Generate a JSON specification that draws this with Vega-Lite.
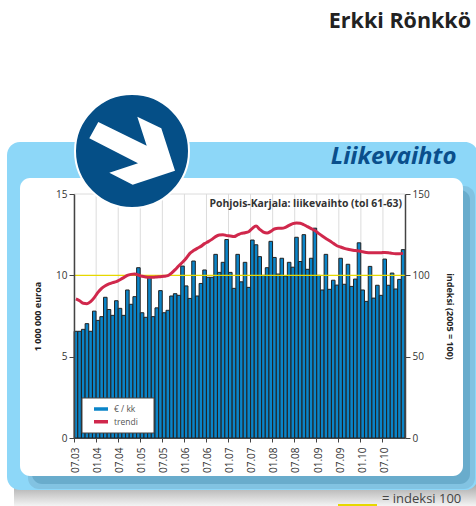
{"$schema":"https://vega.github.io/schema/vega-lite/v6.json","width":331,"height":244,"autosize":"none","padding":{"left":74,"top":194,"right":71,"bottom":68},"background":"white","config":{"view":{"stroke":null},"font":"Open Sans"},"datasets":{"kuukaudet":[
{"kk":"07.03","e":6.56,"t":85.5},{"kk":"08.03","e":6.56,"t":84.4},{"kk":"09.03","e":6.68,"t":82.8},{"kk":"10.03","e":7.03,"t":82.6},{"kk":"11.03","e":6.56,"t":83.8},{"kk":"12.03","e":7.8,"t":86.3},
{"kk":"01.04","e":7.23,"t":89.5},{"kk":"02.04","e":7.46,"t":92},{"kk":"03.04","e":8.65,"t":93.6},{"kk":"04.04","e":7.9,"t":94.7},{"kk":"05.04","e":7.54,"t":95.5},{"kk":"06.04","e":8.44,"t":96.1},
{"kk":"07.04","e":7.97,"t":97.3},{"kk":"08.04","e":7.54,"t":98.6},{"kk":"09.04","e":9.1,"t":100},{"kk":"10.04","e":8.22,"t":100.6},{"kk":"11.04","e":8.69,"t":100.8},{"kk":"12.04","e":10.47,"t":100.2},
{"kk":"01.05","e":7.7,"t":99.4},{"kk":"02.05","e":7.42,"t":99},{"kk":"03.05","e":9.9,"t":98.8},{"kk":"04.05","e":7.46,"t":98.8},{"kk":"05.05","e":8.0,"t":99},{"kk":"06.05","e":9.06,"t":99.2},
{"kk":"07.05","e":7.7,"t":99.4},{"kk":"08.05","e":7.85,"t":99.8},{"kk":"09.05","e":8.73,"t":101.4},{"kk":"10.05","e":8.87,"t":103.5},{"kk":"11.05","e":8.77,"t":105.9},{"kk":"12.05","e":10.57,"t":108},
{"kk":"01.06","e":9.35,"t":110.5},{"kk":"02.06","e":8.58,"t":113.5},{"kk":"03.06","e":10.88,"t":115.2},{"kk":"04.06","e":8.73,"t":116.6},{"kk":"05.06","e":9.5,"t":117.8},{"kk":"06.06","e":10.33,"t":119.5},
{"kk":"07.06","e":9.88,"t":120.7},{"kk":"08.06","e":9.88,"t":122.1},{"kk":"09.06","e":11.29,"t":123.8},{"kk":"10.06","e":10.18,"t":124.8},{"kk":"11.06","e":10.8,"t":125},{"kk":"12.06","e":12.2,"t":124.4},
{"kk":"01.07","e":10.18,"t":124.2},{"kk":"02.07","e":9.2,"t":123.8},{"kk":"03.07","e":11.29,"t":124.8},{"kk":"04.07","e":9.6,"t":125.8},{"kk":"05.07","e":10.8,"t":126.2},{"kk":"06.07","e":9.26,"t":126.8},
{"kk":"07.07","e":12.17,"t":128.9},{"kk":"08.07","e":11.88,"t":130.3},{"kk":"09.07","e":11.15,"t":128.3},{"kk":"10.07","e":10.0,"t":126.6},{"kk":"11.07","e":10.47,"t":126},{"kk":"12.07","e":12.09,"t":127},
{"kk":"01.08","e":11.1,"t":128.5},{"kk":"02.08","e":10.08,"t":128.9},{"kk":"03.08","e":11.05,"t":128.9},{"kk":"04.08","e":9.96,"t":129.5},{"kk":"05.08","e":10.8,"t":130.7},{"kk":"06.08","e":10.5,"t":131.8},
{"kk":"07.08","e":12.34,"t":132.2},{"kk":"08.08","e":10.85,"t":132},{"kk":"09.08","e":12.5,"t":131.1},{"kk":"10.08","e":10.37,"t":129.9},{"kk":"11.08","e":11.05,"t":128.7},{"kk":"12.08","e":12.9,"t":127.5},
{"kk":"01.09","e":10.0,"t":125.8},{"kk":"02.09","e":9.1,"t":124.2},{"kk":"03.09","e":11.29,"t":122.7},{"kk":"04.09","e":9.14,"t":121.3},{"kk":"05.09","e":9.7,"t":119.7},{"kk":"06.09","e":9.4,"t":118.2},
{"kk":"07.09","e":11.05,"t":117.4},{"kk":"08.09","e":9.45,"t":116.6},{"kk":"09.09","e":10.68,"t":116},{"kk":"10.09","e":9.32,"t":115.6},{"kk":"11.09","e":9.77,"t":115.2},{"kk":"12.09","e":12.0,"t":115},
{"kk":"01.10","e":9.1,"t":114.5},{"kk":"02.10","e":8.4,"t":114.1},{"kk":"03.10","e":10.55,"t":113.9},{"kk":"04.10","e":8.6,"t":113.9},{"kk":"05.10","e":9.39,"t":113.9},{"kk":"06.10","e":8.77,"t":113.9},
{"kk":"07.10","e":11.0,"t":114.1},{"kk":"08.10","e":9.39,"t":113.9},{"kk":"09.10","e":10.14,"t":113.5},{"kk":"10.10","e":9.16,"t":113.3},{"kk":"11.10","e":9.75,"t":113.3},{"kk":"12.10","e":11.58,"t":113.5}
]},"resolve":{"scale":{"y":"independent"},"axis":{"y":"independent"}},"layer":[
{"data":{"values":[{"osa":"varjo"}]},"mark":{"type":"rect","fill":{"gradient":"linear","x1":0,"y1":0,"x2":0,"y2":1,"stops":[{"offset":0,"color":"#A8A8A8"},{"offset":1,"color":"#F4F4F4"}]}},"encoding":{"x":{"value":-60},"x2":{"value":402},"y":{"value":290},"y2":{"value":312}}},
{"data":{"values":[{"osa":"paneeli"}]},"mark":{"type":"rect","cornerRadius":13,"fill":"#8DD7F8"},"encoding":{"x":{"value":-67},"x2":{"value":404},"y":{"value":-52},"y2":{"value":296}}},
{"data":{"values":[{"osa":"sisävarjo ulompi"}]},"mark":{"type":"rect","cornerRadius":11,"fill":"#82C3E2"},"encoding":{"x":{"value":-46},"x2":{"value":401},"y":{"value":-8},"y2":{"value":295}}},
{"data":{"values":[{"osa":"sisävarjo"}]},"mark":{"type":"rect","cornerRadius":10,"fill":"#69ACCC"},"encoding":{"x":{"value":-42},"x2":{"value":396},"y":{"value":-4},"y2":{"value":290}}},
{"data":{"values":[{"osa":"sisus"}]},"mark":{"type":"rect","cornerRadius":10,"fill":"white"},"encoding":{"x":{"value":-54},"x2":{"value":389},"y":{"value":-16},"y2":{"value":282}}},
{"data":{"name":"kuukaudet"},"transform":[{"filter":{"field":"kk","oneOf":["07.03","01.04","07.04","01.05","07.05","01.06","07.06","01.07","07.07","01.08","07.08","01.09","07.09","01.10","07.10"]}}],"mark":{"type":"rule","color":"#DCDCDC","strokeWidth":1},"encoding":{"x":{"field":"kk","type":"ordinal","bandPosition":0,"title":null,"scale":{"type":"band","padding":0.03,"domain":["07.03","08.03","09.03","10.03","11.03","12.03","01.04","02.04","03.04","04.04","05.04","06.04","07.04","08.04","09.04","10.04","11.04","12.04","01.05","02.05","03.05","04.05","05.05","06.05","07.05","08.05","09.05","10.05","11.05","12.05","01.06","02.06","03.06","04.06","05.06","06.06","07.06","08.06","09.06","10.06","11.06","12.06","01.07","02.07","03.07","04.07","05.07","06.07","07.07","08.07","09.07","10.07","11.07","12.07","01.08","02.08","03.08","04.08","05.08","06.08","07.08","08.08","09.08","10.08","11.08","12.08","01.09","02.09","03.09","04.09","05.09","06.09","07.09","08.09","09.09","10.09","11.09","12.09","01.10","02.10","03.10","04.10","05.10","06.10","07.10","08.10","09.10","10.10","11.10","12.10"]},"axis":{"bandPosition":0,"values":["07.03","01.04","07.04","01.05","07.05","01.06","07.06","01.07","07.07","01.08","07.08","01.09","07.09","01.10","07.10"],"labelAngle":270,"labelBaseline":"middle","labelAlign":"right","labelFontSize":10,"labelColor":"#333333","labelPadding":5,"tickColor":"#444444","tickSize":4,"domainColor":"#444444","grid":false,"zindex":1,"labelOverlap":false}}}},
{"data":{"values":[{"osa":"yläreuna"}]},"mark":{"type":"rule","color":"#DCDCDC","strokeWidth":1},"encoding":{"y":{"datum":15,"type":"quantitative","scale":{"domain":[0,15]},"axis":null}}},
{"data":{"name":"kuukaudet"},"mark":{"type":"bar","stroke":"#222222","strokeWidth":1},"encoding":{"x":{"field":"kk","type":"ordinal"},"y":{"field":"e","type":"quantitative","title":"1 000 000 euroa","scale":{"domain":[0,15]},"axis":{"values":[0,5,10,15],"orient":"left","grid":false,"zindex":1,"domainColor":"#444444","domainWidth":1.5,"tickColor":"#444444","tickSize":5,"labelFontSize":10,"labelColor":"#333333","titleFontSize":9,"titleFontWeight":"bold","titleColor":"#222222","titlePadding":13}},"color":{"datum":"€ / kk","type":"nominal","scale":{"domain":["€ / kk","trendi"],"range":["#0A84C8","#D0284C"]},"legend":{"title":null,"orient":"none","legendX":18,"legendY":209,"padding":0,"symbolType":"stroke","symbolSize":196,"symbolStrokeWidth":3.5,"labelFontSize":8.5,"labelColor":"#555555","labelOffset":4,"rowPadding":0.7,"clipHeight":12,"zindex":1}}}},
{"data":{"values":[{"osa":"indeksi 100"}]},"mark":{"type":"rule","color":"#E6D800","strokeWidth":1.3},"encoding":{"y":{"datum":100,"type":"quantitative","scale":{"domain":[0,150]},"axis":null}}},
{"data":{"name":"kuukaudet"},"mark":{"type":"line","strokeWidth":3,"interpolate":"monotone"},"encoding":{"x":{"field":"kk","type":"ordinal"},"y":{"field":"t","type":"quantitative","title":"indeksi (2005 = 100)","scale":{"domain":[0,150]},"axis":{"orient":"right","values":[0,50,100,150],"grid":false,"zindex":1,"domainColor":"#444444","domainWidth":1.5,"tickColor":"#444444","tickSize":5,"labelFontSize":10,"labelColor":"#333333","titleFontSize":9,"titleFontWeight":"bold","titleColor":"#222222","titlePadding":15}},"color":{"datum":"trendi","type":"nominal"}}},
{"data":{"values":[{"osa":"selitelaatikko"}]},"mark":{"type":"rect","fill":"white","stroke":"#444444","strokeWidth":1},"encoding":{"x":{"value":8},"x2":{"value":80},"y":{"value":204},"y2":{"value":239}}},
{"data":{"values":[{"osa":"merkki"}]},"mark":{"type":"point","shape":"circle","filled":true,"fill":"#054F87","stroke":"white","strokeWidth":2,"size":12996,"opacity":1},"encoding":{"x":{"value":58},"y":{"value":-43}}},
{"data":{"values":[{"osa":"nuoli"}]},"mark":{"type":"point","shape":"M-0.674,-0.58L-0.854,-0.254L0.12,0.246L-0.454,0.434L0.014,0.674L0.86,0.394L0.586,-0.454L0.106,-0.686L0.294,-0.106Z","filled":true,"fill":"white","strokeWidth":0,"size":10000,"opacity":1},"encoding":{"x":{"value":58},"y":{"value":-43}}},
{"data":{"values":[{"teksti":"Pohjois-Karjala: liikevaihto (tol 61-63)"}]},"mark":{"type":"text","align":"right","baseline":"alphabetic","font":"Open Sans","fontSize":10.4,"fontWeight":"bold","color":"#333333"},"encoding":{"text":{"field":"teksti"},"x":{"value":328},"y":{"value":13}}},
{"data":{"values":[{"teksti":"Erkki Rönkkö"}]},"mark":{"type":"text","align":"right","baseline":"alphabetic","font":"Open Sans","fontSize":21.5,"fontWeight":"bold","color":"#222222"},"encoding":{"text":{"field":"teksti"},"x":{"value":397},"y":{"value":-166.5}}},
{"data":{"values":[{"teksti":"Liikevaihto"}]},"mark":{"type":"text","align":"right","baseline":"alphabetic","font":"Open Sans","fontSize":24,"fontWeight":"bold","fontStyle":"italic","color":"#0A4F8C"},"encoding":{"text":{"field":"teksti"},"x":{"value":382.5},"y":{"value":-29.7}}},
{"data":{"values":[{"osa":"selite"}]},"mark":{"type":"rect","fill":"#E6D800"},"encoding":{"x":{"value":264},"x2":{"value":303},"y":{"value":310},"y2":{"value":312}}},
{"data":{"values":[{"teksti":"= indeksi 100"}]},"mark":{"type":"text","align":"left","baseline":"alphabetic","font":"Open Sans","fontSize":13,"color":"#444444"},"encoding":{"text":{"field":"teksti"},"x":{"value":308},"y":{"value":308.5}}}
]}
